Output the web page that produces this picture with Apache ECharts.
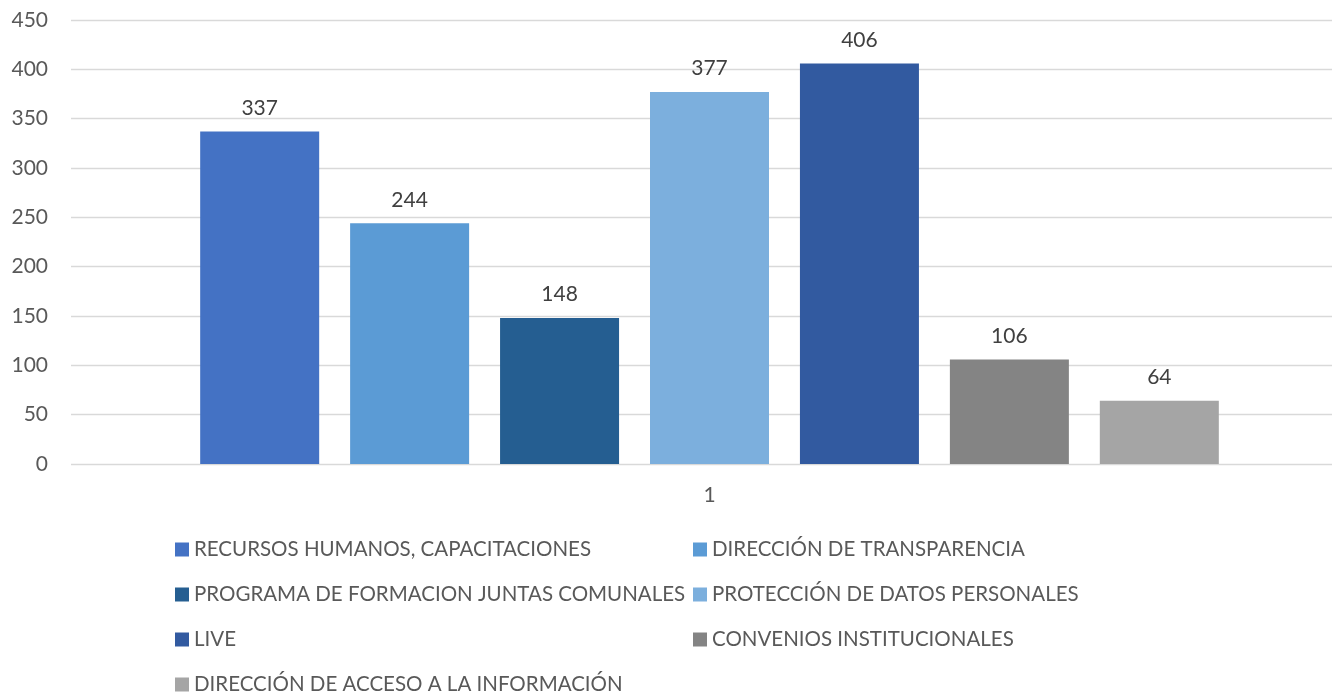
<!DOCTYPE html>
<html>
<head>
<meta charset="utf-8">
<script src="https://cdn.jsdelivr.net/npm/echarts@6/dist/echarts.min.js"></script>
<style>
  html, body { margin: 0; padding: 0; background: #ffffff; }
  #chart { width: 1332px; height: 692px; }
</style>
</head>
<body>
<div id="chart"></div>
<script>
// Single category with one bar per area
const categories = ['1'];
const seriesNames = [
  'RECURSOS HUMANOS, CAPACITACIONES',
  'DIRECCIÓN DE TRANSPARENCIA',
  'PROGRAMA DE FORMACION JUNTAS COMUNALES',
  'PROTECCIÓN DE DATOS PERSONALES',
  'LIVE',
  'CONVENIOS INSTITUCIONALES',
  'DIRECCIÓN DE ACCESO A LA INFORMACIÓN'
];
const seriesValues = [337, 244, 148, 377, 406, 106, 64];
const seriesColors = ['#4472C4', '#5B9BD5', '#255E91', '#7CAFDD', '#325AA0', '#848484', '#A5A5A5'];
const yTicks = { min: 0, max: 450, interval: 50 };

const FONT = 'Lato';

const series = seriesNames.map((name, i) => ({
  name: name,
  type: 'bar',
  data: [seriesValues[i]],
  barWidth: 119,
  barGap: '26%',
  itemStyle: { color: seriesColors[i] },
  label: {
    show: true,
    position: 'top',
    distance: 13,
    color: '#404040',
    fontFamily: FONT,
    fontSize: 21
  }
}));

const legendText = { color: '#595959', fontFamily: FONT, fontSize: 20.5 };

const legendBase = {
  orient: 'vertical',
  top: 539,
  height: 200,
  padding: 0,
  itemWidth: 14,
  itemHeight: 14,
  itemGap: 24,
  icon: 'rect',
  textStyle: legendText
};

const chart = echarts.init(document.getElementById('chart'), null, { renderer: 'canvas' });
chart.setOption({
  animation: false,
  backgroundColor: '#ffffff',
  grid: {
    left: 71, top: 20, width: 1277, height: 444,
    containLabel: false,
    outerBoundsMode: 'none'
  },
  xAxis: {
    type: 'category',
    data: categories,
    axisLine: { show: false },
    axisTick: { show: false },
    axisLabel: { color: '#595959', fontFamily: FONT, fontSize: 21, margin: 21 }
  },
  yAxis: {
    type: 'value',
    min: yTicks.min,
    max: yTicks.max,
    interval: yTicks.interval,
    axisLine: { show: false },
    axisTick: { show: false },
    axisLabel: { color: '#595959', fontFamily: FONT, fontSize: 21, margin: 23 },
    splitLine: { lineStyle: { color: '#D9D9D9', width: 1.3 } }
  },
  legend: [
    Object.assign({}, legendBase, {
      left: 175,
      data: [seriesNames[0], seriesNames[2], seriesNames[4], seriesNames[6]]
    }),
    Object.assign({}, legendBase, {
      left: 693,
      data: [seriesNames[1], seriesNames[3], seriesNames[5]]
    })
  ],
  series: series
});
</script>
</body>
</html>
